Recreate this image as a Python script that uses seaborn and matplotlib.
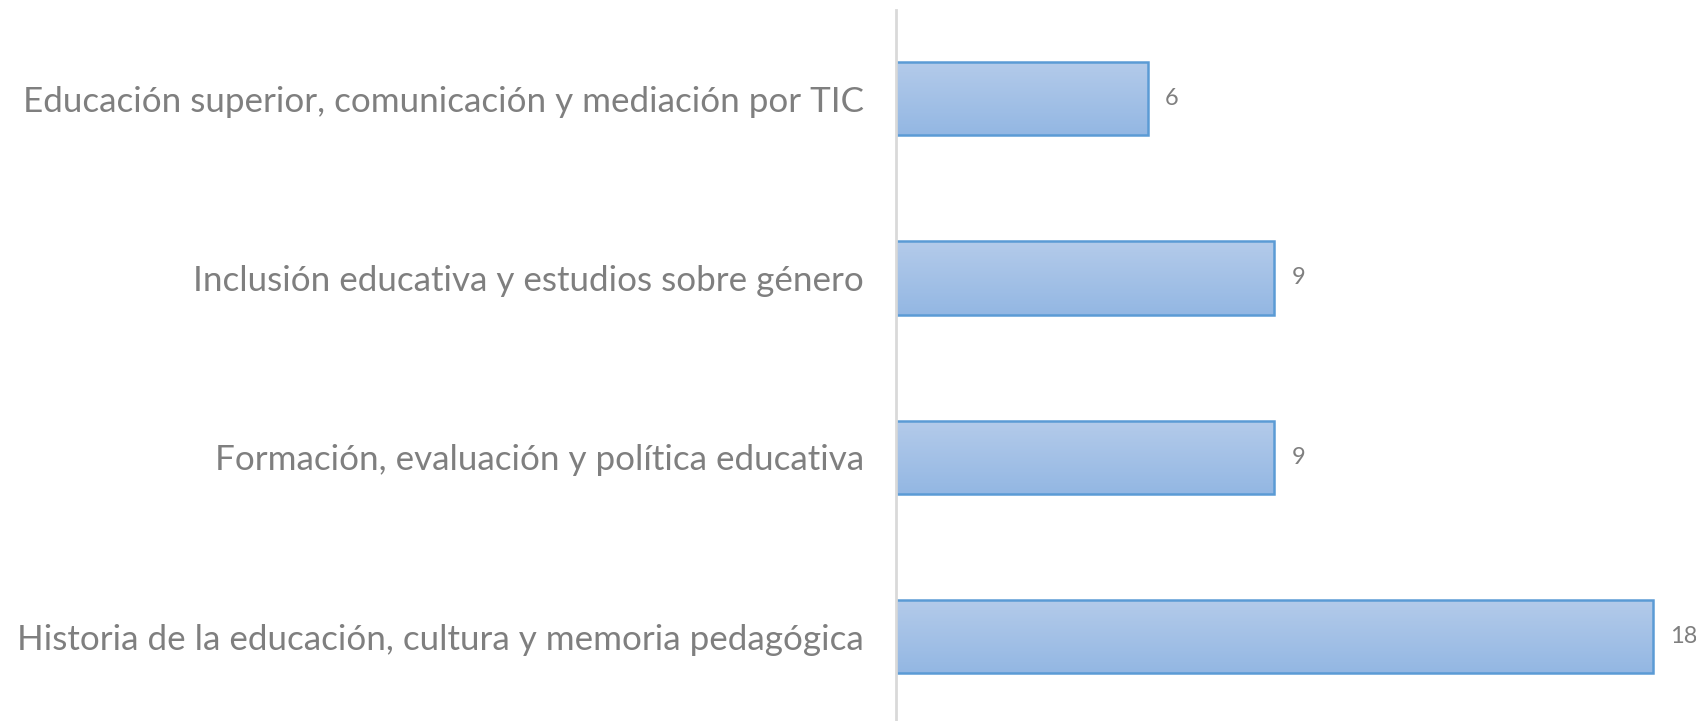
import numpy as np
import pandas as pd
import matplotlib
matplotlib.use("Agg")
import matplotlib.pyplot as plt
import seaborn as sns
from matplotlib.colors import LinearSegmentedColormap

categories = [
    "Educación superior, comunicación y mediación por TIC",
    "Inclusión educativa y estudios sobre género",
    "Formación, evaluación y política educativa",
    "Historia de la educación, cultura y memoria pedagógica",
]
values = [6, 9, 9, 18]

sns.set_theme(style="white")
plt.rcParams['font.family'] = ['Lato', 'DejaVu Sans']

df = pd.DataFrame({"cat": categories, "val": values})

fig = plt.figure(figsize=(16.96, 7.21), dpi=100)
ax = fig.add_axes([896/1696, 0.0, 1 - 896/1696, 1 - 10/721])

sns.barplot(data=df, x="val", y="cat", orient="h", ax=ax, color="#a3c0e6",
            width=0.41, edgecolor="#5b9bd5", linewidth=1.8, saturation=1)

cmap = LinearSegmentedColormap.from_list("g", ["#b4cbea", "#93b7e3"])
grad = np.linspace(0, 1, 256).reshape(-1, 1)
for p in list(ax.patches):
    x0, y0 = p.get_x(), p.get_y()
    w, h = p.get_width(), p.get_height()
    im = ax.imshow(grad, cmap=cmap, aspect="auto",
                   extent=(x0, x0 + w, y0 + h, y0), zorder=p.get_zorder() + 0.1,
                   interpolation="bicubic")
    im.set_clip_path(p)
    p.set_facecolor("none")
    p.set_zorder(p.get_zorder() + 0.2)
    ax.text(x0 + w + 0.4, y0 + h / 2, f"{int(w)}", va="center", ha="left",
            fontsize=17, color="#7f7f7f")

ax.set_xlim(0, 800/42.05)
ax.set_ylim(3.47, -0.494)
ax.set_xlabel("")
ax.set_ylabel("")
ax.set_xticks([])
ax.tick_params(axis="y", length=0, pad=23, labelsize=25.2, labelcolor="#7f7f7f")
for s in ["top", "right", "bottom"]:
    ax.spines[s].set_visible(False)
ax.spines["left"].set_color("#d9d9d9")
ax.spines["left"].set_linewidth(2)

fig.savefig("out.png", dpi=100)
